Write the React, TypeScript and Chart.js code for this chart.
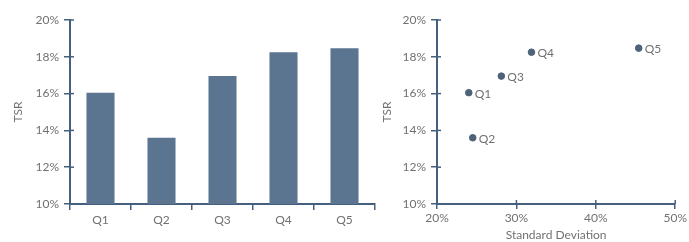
import React, { useEffect, useRef } from "react";
import { Chart, registerables } from "chart.js";

Chart.register(...registerables);

const categories = ["Q1", "Q2", "Q3", "Q4", "Q5"];
const tsrValues = [16.05, 13.6, 16.95, 18.25, 18.47];
const stdDevValues = [24.0, 24.5, 28.1, 31.9, 45.4];
const yTicksRange = { min: 10, max: 20, step: 2 };
const xTicksRange = { min: 20, max: 50, step: 10 };

const AXIS = "#45607e";
const BAR = "#5b7490";
const POINT = "#4e6278";
const TEXT = "#717171";
const FONT = "Lato, 'DejaVu Sans', sans-serif";

const innerTicks = {
  id: "innerTicks",
  afterDraw(chart: any, _args: any, opts: any) {
    const ctx = chart.ctx;
    ctx.save();
    ctx.strokeStyle = AXIS;
    ctx.lineWidth = 1.5;
    const ys = chart.scales.y;
    if (ys) {
      ys.ticks.forEach((_t: any, i: number) => {
        const p = ys.getPixelForTick(i);
        ctx.beginPath();
        ctx.moveTo(ys.right, p);
        ctx.lineTo(ys.right + 4, p);
        ctx.stroke();
      });
    }
    const xs = chart.scales.x;
    if (xs && opts && opts.xInner) {
      xs.ticks.forEach((_t: any, i: number) => {
        const p = xs.getPixelForTick(i);
        ctx.beginPath();
        ctx.moveTo(p, xs.top);
        ctx.lineTo(p, xs.top - 4);
        ctx.stroke();
      });
    }
    ctx.restore();
  },
};

const pointLabels = {
  id: "pointLabels",
  afterDatasetsDraw(chart: any, _args: any, opts: any) {
    if (!opts || !opts.enabled) return;
    const ctx = chart.ctx;
    const meta = chart.getDatasetMeta(0);
    ctx.save();
    ctx.fillStyle = TEXT;
    ctx.font = `12px ${FONT}`;
    ctx.textBaseline = "middle";
    ctx.textAlign = "left";
    meta.data.forEach((el: any, i: number) => {
      ctx.fillText(categories[i], el.x + 6, el.y + 1);
    });
    ctx.restore();
  },
};

function yScale(width: number) {
  return {
    min: yTicksRange.min,
    max: yTicksRange.max,
    afterFit: (s: any) => {
      s.width = width;
    },
    title: {
      display: true,
      text: "TSR",
      color: TEXT,
      font: { family: FONT, size: 12 },
      padding: { top: 0, bottom: 0 },
    },
    border: { color: AXIS, width: 2 },
    grid: { drawOnChartArea: false, tickLength: 6, color: AXIS, lineWidth: 1.5 },
    ticks: {
      stepSize: yTicksRange.step,
      padding: 5,
      color: TEXT,
      font: { family: FONT, size: 12 },
      callback: (v: any) => v + "%",
    },
  };
}

function BarPanel() {
  const ref = useRef<HTMLCanvasElement>(null);
  useEffect(() => {
    const chart = new Chart(ref.current!, {
      type: "bar",
      data: {
        labels: categories,
        datasets: [
          {
            data: tsrValues,
            backgroundColor: BAR,
            barPercentage: 0.46,
            categoryPercentage: 1,
          },
        ],
      },
      options: {
        responsive: false,
        animation: false,
        layout: { padding: { top: 20, right: 5, left: 11, bottom: 0 } },
        plugins: { legend: { display: false }, tooltip: { enabled: false }, innerTicks: {} } as any,
        scales: {
          x: {
            afterFit: (s: any) => {
              s.height = 38;
            },
            border: { color: AXIS, width: 2 },
            grid: { drawOnChartArea: false, tickLength: 6, color: AXIS, lineWidth: 1.5, offset: true },
            ticks: { color: TEXT, font: { family: FONT, size: 12 }, padding: 3 },
          },
          y: yScale(59) as any,
        },
      },
      plugins: [innerTicks],
    });
    return () => chart.destroy();
  }, []);
  return (
    <canvas
      ref={ref}
      width={380}
      height={242}
      style={{ position: "absolute", left: 0, top: 0, width: 380, height: 242 }}
    />
  );
}

function ScatterPanel() {
  const ref = useRef<HTMLCanvasElement>(null);
  useEffect(() => {
    const chart = new Chart(ref.current!, {
      type: "scatter",
      data: {
        datasets: [
          {
            data: stdDevValues.map((x, i) => ({ x, y: tsrValues[i] })),
            backgroundColor: POINT,
            borderColor: POINT,
            pointRadius: 3.3,
          },
        ],
      },
      options: {
        responsive: false,
        animation: false,
        layout: { padding: { top: 20, right: 12, left: 0, bottom: 0 } },
        plugins: {
          legend: { display: false },
          tooltip: { enabled: false },
          innerTicks: { xInner: true },
          pointLabels: { enabled: true },
        } as any,
        scales: {
          x: {
            type: "linear",
            min: xTicksRange.min,
            max: xTicksRange.max,
            afterFit: (s: any) => {
              s.height = 38;
            },
            title: {
              display: true,
              text: "Standard Deviation",
              color: TEXT,
              font: { family: FONT, size: 12 },
              padding: { top: 0, bottom: 0 },
            },
            border: { color: AXIS, width: 2 },
            grid: { drawOnChartArea: false, tickLength: 5, color: AXIS, lineWidth: 1.5 },
            ticks: {
              stepSize: xTicksRange.step,
              color: TEXT,
              font: { family: FONT, size: 12 },
              padding: 2,
              callback: (v: any) => v + "%",
            },
          },
          y: yScale(57) as any,
        },
      },
      plugins: [innerTicks, pointLabels],
    });
    return () => chart.destroy();
  }, []);
  return (
    <canvas
      ref={ref}
      width={309}
      height={242}
      style={{ position: "absolute", left: 380, top: 0, width: 309, height: 242 }}
    />
  );
}

export default function App() {
  return (
    <div
      style={{
        position: "fixed",
        left: 0,
        top: 0,
        width: 689,
        height: 242,
        background: "#ffffff",
        overflow: "hidden",
      }}
    >
      <BarPanel />
      <ScatterPanel />
    </div>
  );
}
